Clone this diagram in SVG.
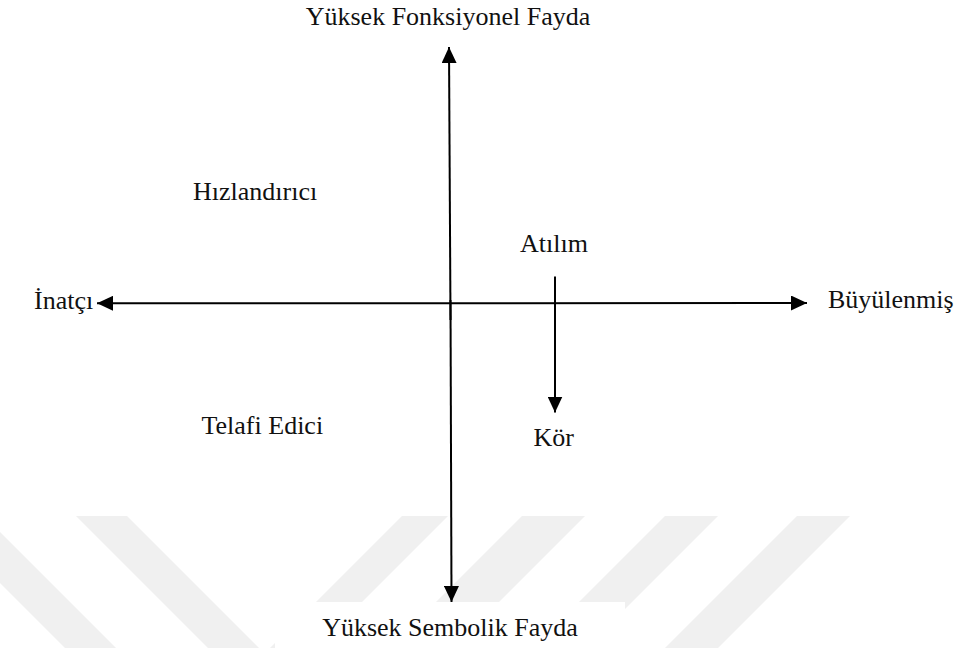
<svg xmlns="http://www.w3.org/2000/svg" width="960" height="648" viewBox="0 0 960 648">
<style>
  .lbl { font-family: "Liberation Serif", "Times New Roman", serif; font-size: 26px; fill: #111; }
  .ax { stroke: #000; stroke-width: 2; fill: none; }
  .wm { fill: #f0f0f0; }
</style>
<defs>
  <marker id="arr" markerUnits="userSpaceOnUse" markerWidth="16" markerHeight="15" refX="16" refY="7.5" orient="auto" viewBox="0 0 16 15">
    <path d="M0,0 L16,7.5 L0,15 Z" fill="#000"/>
  </marker>
</defs>
<rect x="0" y="0" width="960" height="648" fill="#fff"/>
<g id="watermark">
  <polygon class="wm" points="0,532 116,648 65,648 0,583"/>
  <polygon class="wm" points="76,516 127,516 259,648 208,648"/>
  <polygon class="wm" points="402,516 448,516 316,648 270,648"/>
  <polygon class="wm" points="522,516 585,516 453,648 390,648"/>
  <polygon class="wm" points="665,516 718,516 586,648 533,648"/>
  <polygon class="wm" points="797,516 850,516 718,648 665,648"/>
  <rect x="275" y="602" width="350" height="46" fill="#fff"/>
</g>
<g id="connectors">
  <line class="ax" x1="450.5" y1="320" x2="449" y2="47" marker-end="url(#arr)"/>
  <line class="ax" x1="450.5" y1="300" x2="451.5" y2="602" marker-end="url(#arr)"/>
  <line class="ax" x1="450" y1="303.3" x2="97" y2="303.3" marker-end="url(#arr)"/>
  <line class="ax" x1="450" y1="303.3" x2="807" y2="303" marker-end="url(#arr)"/>
  <line class="ax" x1="555" y1="276.5" x2="555" y2="412.5" marker-end="url(#arr)"/>
</g>
<g id="top"><text class="lbl" x="448" y="25" text-anchor="middle">Yüksek Fonksiyonel Fayda</text></g>
<g id="bottom"><text class="lbl" x="450" y="636" text-anchor="middle">Yüksek Sembolik Fayda</text></g>
<g id="left"><text class="lbl" x="34" y="309">İnatçı</text></g>
<g id="right"><text class="lbl" x="828" y="308">Büyülenmiş</text></g>
<g id="hizlandirici"><text class="lbl" x="193" y="199.5">Hızlandırıcı</text></g>
<g id="telafi"><text class="lbl" x="201.5" y="434">Telafi Edici</text></g>
<g id="atilim"><text class="lbl" x="520" y="251.5">Atılım</text></g>
<g id="kor"><text class="lbl" x="533.5" y="446">Kör</text></g>
</svg>
